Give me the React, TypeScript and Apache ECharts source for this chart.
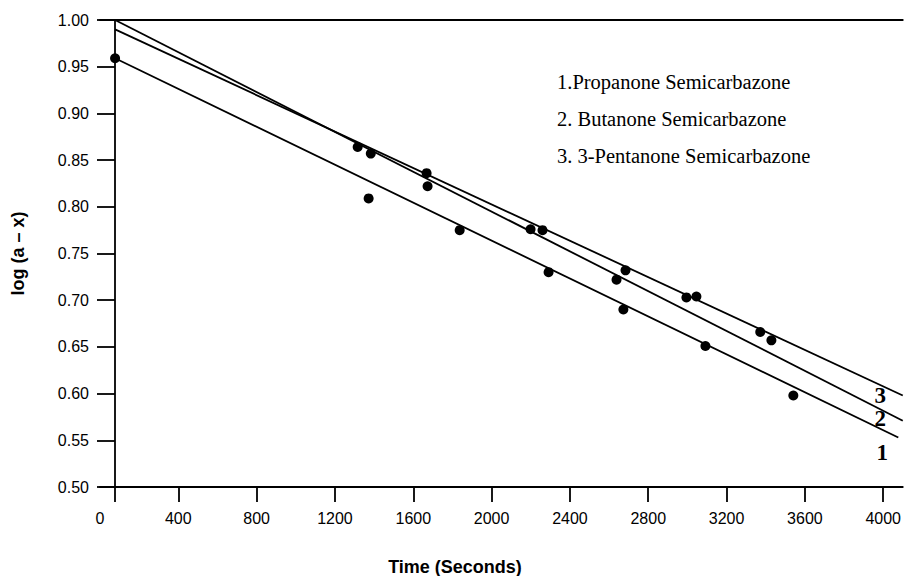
import React, { useEffect, useRef } from 'react';
import * as echarts from 'echarts';

// Tick labels on the time axis
const timeTicks = [0, 400, 800, 1200, 1600, 2000, 2400, 2800, 3200, 3600, 4000];

// Series names (legend text)
const seriesNames = [
  '1.Propanone Semicarbazone',
  '2. Butanone Semicarbazone',
  '3. 3-Pentanone Semicarbazone',
];
const lineLabels = ['1', '2', '3'];

// Measured points: time (s) and log(a - x)
const propanoneTime = [77, 1372, 1837, 2291, 2673, 3092, 3541];
const propanoneLog = [0.959, 0.809, 0.775, 0.73, 0.69, 0.651, 0.598];
const butanoneTime = [1383, 1673, 2199, 2638];
const butanoneLog = [0.857, 0.822, 0.776, 0.722];
const pentanoneTime = [1316, 1668, 2260, 2684, 2995, 3046, 3372, 3429];
const pentanoneLog = [0.864, 0.836, 0.775, 0.732, 0.703, 0.704, 0.666, 0.657];

// Fitted straight lines: start / end time and value
const propanoneFitTime = [77, 4077];
const propanoneFit = [0.959, 0.553];
const butanoneFitTime = [77, 4100];
const butanoneFit = [1.0, 0.571];
const pentanoneFitTime = [77, 4100];
const pentanoneFit = [0.99, 0.598];

// Where the line numbers sit (time, value)
const lineLabelTime = [3995, 3985, 3985];
const lineLabelLog = [0.537, 0.573, 0.598];

const zip = (a: number[], b: number[]) => a.map((v, i) => [v, b[i]]);

export default function App() {
  const ref = useRef<HTMLDivElement>(null);

  useEffect(() => {
    if (!ref.current) return;
    const chart = echarts.init(ref.current, undefined, { renderer: 'svg' });
    const sans = '"Liberation Sans", Arial, sans-serif';
    const serif = '"Liberation Serif", "Times New Roman", serif';
    const black = '#000';
    const axisLineStyle = { color: black, width: 1.8 };

    const pointSeries = [
      zip(propanoneTime, propanoneLog),
      zip(butanoneTime, butanoneLog),
      zip(pentanoneTime, pentanoneLog),
    ].map((data, i) => ({
      name: seriesNames[i],
      type: 'scatter',
      data,
      symbol: 'circle',
      symbolSize: 10,
      itemStyle: { color: black, opacity: 1 },
      z: 3,
    }));

    const fitSeries = [
      zip(propanoneFitTime, propanoneFit),
      zip(butanoneFitTime, butanoneFit),
      zip(pentanoneFitTime, pentanoneFit),
    ].map((data, i) => ({
      name: seriesNames[i] + ' fit',
      type: 'line',
      data,
      symbol: 'none',
      lineStyle: { color: black, width: 1.8 },
      z: 2,
    }));

    const labelSeries = {
      name: 'line numbers',
      type: 'scatter',
      data: lineLabelTime.map((t, i) => ({ value: [t, lineLabelLog[i]], name: lineLabels[i] })),
      symbolSize: 1,
      itemStyle: { color: '#fff', opacity: 0 },
      label: {
        show: true,
        position: 'inside',
        formatter: (p: any) => p.name,
        color: black,
        textBorderWidth: 0,
        textBorderColor: 'transparent',
        fontFamily: serif,
        fontWeight: 'bold',
        fontSize: 23,
        opacity: 1,
      },
      z: 4,
    };

    const option: any = {
      animation: false,
      backgroundColor: '#fff',
      grid: { left: 100, right: 0, top: 20, bottom: 89 },
      xAxis: [
        {
          type: 'value',
          min: 0,
          max: 4100,
          interval: 400,
          axisLine: { show: true, onZero: false, lineStyle: axisLineStyle },
          axisTick: {
            show: true,
            length: 15,
            customValues: [propanoneFitTime[0], ...timeTicks.slice(1)],
            lineStyle: axisLineStyle,
          },
          axisLabel: {
            customValues: timeTicks,
            margin: 23,
            color: black,
            fontSize: 16,
            fontFamily: sans,
            formatter: (v: number) => String(v),
          },
          splitLine: { show: false },
        },
        {
          type: 'value',
          position: 'top',
          min: 0,
          max: 4100,
          axisLine: { show: true, onZero: false, lineStyle: axisLineStyle },
          axisTick: { show: false },
          axisLabel: { show: false },
          splitLine: { show: false },
        },
      ],
      yAxis: {
        type: 'value',
        min: 0.5,
        max: 1.0,
        interval: 0.05,
        offset: -15,
        name: 'log (a – x)',
        nameLocation: 'middle',
        nameRotate: 90,
        nameGap: 88,
        nameTextStyle: { color: black, fontFamily: sans, fontWeight: 'bold', fontSize: 18 },
        axisLine: { show: true, onZero: false, lineStyle: axisLineStyle },
        axisTick: { show: true, length: 18, lineStyle: axisLineStyle },
        axisLabel: {
          margin: 26,
          color: black,
          fontSize: 16,
          fontFamily: sans,
          formatter: (v: number) => v.toFixed(2),
        },
        splitLine: { show: false },
      },
      graphic: [
        ...seriesNames.map((s, i) => ({
          type: 'text',
          x: 557,
          y: 82 + i * 37,
          style: {
            text: s,
            fill: black,
            fontFamily: serif,
            fontSize: 20.5,
            align: 'left',
            verticalAlign: 'middle',
          },
        })),
        {
          type: 'text',
          x: 455,
          y: 567,
          style: {
            text: 'Time (Seconds)',
            fill: black,
            fontFamily: sans,
            fontWeight: 'bold',
            fontSize: 18,
            align: 'center',
            verticalAlign: 'middle',
          },
        },
      ],
      series: [...fitSeries, ...pointSeries, labelSeries],
    };

    chart.setOption(option);
    return () => chart.dispose();
  }, []);

  return (
    <div
      ref={ref}
      style={{ position: 'absolute', left: 0, top: 0, width: 904, height: 576, background: '#fff' }}
    />
  );
}
